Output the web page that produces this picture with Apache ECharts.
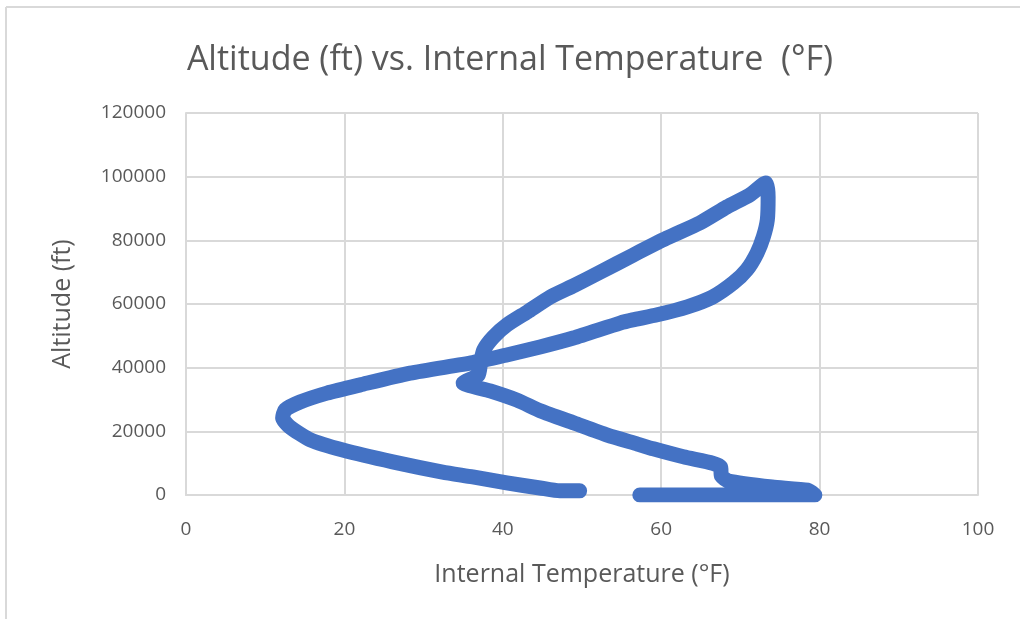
<!DOCTYPE html>
<html>
<head>
<meta charset="utf-8">
<script src="https://cdn.jsdelivr.net/npm/echarts@6/dist/echarts.min.js"></script>
<style>
html,body{margin:0;padding:0;background:#fff;}
#c{width:1020px;height:619px;}
</style>
</head>
<body>
<div id="c"></div>
<script>
// Internal temperature (°F), traced along the flight path
var temps = [57.3, 79.4, 78.5, 74.0, 68.5, 67.6, 67.5, 66.5, 62.8, 59.0, 57.0, 53.2, 49.0, 44.8, 41.8, 38.4, 35.0,
  36.9, 37.2, 37.6, 38.8, 40.5, 43.1, 46.0, 49.0, 52.3, 56.4, 60.7, 64.9, 68.3, 71.2, 73.2,
  73.5, 73.4, 72.9, 72.1, 70.8, 69.1, 66.5, 63.3, 59.5, 56.4, 54.8, 48.9, 44.7, 40.5, 36.2,
  28.3, 22.0, 17.8, 14.4, 12.5, 12.2, 13.1, 15.7, 19.8, 26.1, 32.4, 36.2, 40.5, 44.7, 47.2, 49.7];
// Altitude (ft)
var alts = [0, 0, 1500, 2500, 4400, 6000, 8800, 10000, 12000, 14500, 16000, 18800, 22600, 26400, 29800, 32700, 35200,
  37700, 41800, 45600, 49600, 53400, 57500, 62200, 65800, 70000, 75300, 80700, 85500, 90500, 94300, 98000,
  93600, 86400, 81100, 76000, 70700, 66600, 62200, 59100, 56600, 55000, 54000, 49300, 46500, 44000, 41600,
  38300, 34600, 32000, 29200, 26700, 24200, 21400, 17300, 14100, 10400, 7200, 5700, 3800, 2200, 1300, 1300];
var xTicks = [0, 20, 40, 60, 80, 100];
var yTicks = [0, 20000, 40000, 60000, 80000, 100000, 120000];

var pts = temps.map(function (t, i) { return [t, alts[i]]; });
var FONT = "'Open Sans',sans-serif";
var chart = echarts.init(document.getElementById('c'), null, {renderer: 'canvas'});
chart.setOption({
  animation: false,
  backgroundColor: '#fff',
  title: {
    text: 'Altitude (ft) vs. Internal Temperature  (°F)',
    left: 'center', top: 38,
    textStyle: {fontFamily: FONT, fontSize: 34, fontWeight: 'normal', color: '#595959'}
  },
  grid: {left: 186, right: 42, top: 113, bottom: 124, containLabel: false},
  xAxis: {
    type: 'value', min: xTicks[0], max: xTicks[xTicks.length - 1], interval: 20,
    name: 'Internal Temperature (°F)', nameLocation: 'middle', nameGap: 67,
    nameTextStyle: {fontFamily: FONT, fontSize: 25, color: '#595959'},
    axisLine: {show: true, lineStyle: {color: '#d9d9d9', width: 2}},
    axisTick: {show: false},
    axisLabel: {fontFamily: FONT, fontSize: 19, color: '#595959', margin: 25,
      formatter: function (v) { return String(v); }},
    splitLine: {show: true, lineStyle: {color: '#d9d9d9', width: 2}}
  },
  yAxis: {
    type: 'value', min: yTicks[0], max: yTicks[yTicks.length - 1], interval: 20000,
    name: 'Altitude (ft)', nameLocation: 'middle', nameGap: 111, nameRotate: 90,
    nameTextStyle: {fontFamily: FONT, fontSize: 25, color: '#595959'},
    axisLine: {show: true, lineStyle: {color: '#d9d9d9', width: 2}},
    axisTick: {show: false},
    axisLabel: {fontFamily: FONT, fontSize: 19, color: '#595959', margin: 20,
      formatter: function (v) { return String(v); }},
    splitLine: {show: true, lineStyle: {color: '#d9d9d9', width: 2}}
  },
  graphic: [
    {type: 'line', shape: {x1: 6, y1: 7, x2: 1020, y2: 7}, style: {stroke: '#d9d9d9', lineWidth: 2}},
    {type: 'line', shape: {x1: 6, y1: 7, x2: 6, y2: 619}, style: {stroke: '#d9d9d9', lineWidth: 2}}
  ],
  series: [{
    type: 'line',
    data: pts,
    showSymbol: false,
    smooth: 0.2,
    lineStyle: {color: '#4472C4', width: 15, cap: 'round', join: 'round'},
    itemStyle: {color: '#4472C4'}
  }]
});
</script>
</body>
</html>
